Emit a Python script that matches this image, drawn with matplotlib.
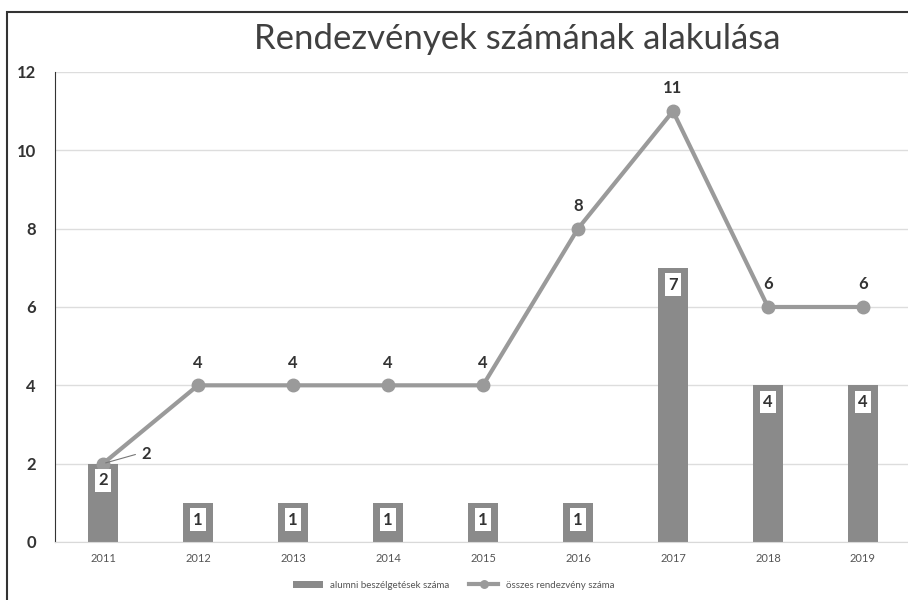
import numpy as np
import matplotlib.pyplot as plt
from matplotlib.patches import Rectangle

years = ["2011", "2012", "2013", "2014", "2015", "2016", "2017", "2018", "2019"]
alumni = [2, 1, 1, 1, 1, 1, 7, 4, 4]
osszes = [2, 4, 4, 4, 4, 8, 11, 6, 6]

plt.rcParams['font.family'] = ['Lato', 'DejaVu Sans']

fig = plt.figure(figsize=(9.08, 6.0), dpi=100)
ax = fig.add_axes([0.0611, 0.0967, 0.9416, 0.7833])

# outer frame
fig.patches.append(Rectangle((0.008, -0.05), 1.1, 1.03, transform=fig.transFigure,
                             fill=False, edgecolor="#333333", lw=1.5))

x = np.arange(len(years))
bar_col = "#8a8a8a"
line_col = "#9a9a9a"

ax.bar(x, alumni, width=0.31, color=bar_col, label="alumni beszélgetések száma", zorder=2)
ax.plot(x, osszes, color=line_col, lw=3, marker="o", ms=9, zorder=3,
        label="összes rendezvény száma")

# bar labels (white boxes)
for xi, v in zip(x, alumni):
    ax.text(xi, v - 0.43, str(v), ha="center", va="center", fontsize=12, fontweight="bold",
            color="#333333", zorder=4,
            bbox=dict(boxstyle="square,pad=0.2", fc="white", ec="none"))

# line labels
for xi, v in zip(x, osszes):
    if xi == 0:
        ax.annotate(str(v), xy=(xi, v), xytext=(xi + 0.45, v + 0.25),
                    ha="center", va="center", fontsize=12, fontweight="bold", color="#333333",
                    arrowprops=dict(arrowstyle="-", color="#777777", lw=0.8,
                                    connectionstyle="arc,angleA=180,angleB=20,armA=8,armB=0,rad=0"))
    else:
        ax.text(xi, v + 0.58, str(v), ha="center", va="center", fontsize=12,
                fontweight="bold", color="#333333")

ax.set_xlim(-0.5, len(years) - 0.5)
ax.set_ylim(0, 12)
ax.set_yticks(range(0, 13, 2))
ax.set_xticks(x)
ax.set_xticklabels(years, fontsize=8, color="#555555")
ax.tick_params(axis="y", labelsize=12, length=0, pad=14, colors="#333333")
for lab in ax.get_yticklabels():
    lab.set_fontweight("bold")
ax.tick_params(axis="x", length=0, pad=8)
ax.grid(axis="y", color="#dddddd", lw=1, zorder=0)
ax.set_axisbelow(True)
for s in ["top", "right"]:
    ax.spines[s].set_visible(False)
ax.spines["left"].set_color("#333333")
ax.spines["bottom"].set_color("#d9d9d9")

fig.text(0.57, 0.935, "Rendezvények számának alakulása", ha="center", va="center",
         fontsize=25, color="#404040")

h, l = ax.get_legend_handles_labels()
order = [l.index("alumni beszélgetések száma"), l.index("összes rendezvény száma")]
fig.legend([h[i] for i in order], [l[i] for i in order], loc="center",
           bbox_to_anchor=(0.5, 0.025), ncol=2, frameon=False,
           fontsize=7, handlelength=3, columnspacing=2, labelcolor="#555555",
           markerscale=0.6)

fig.savefig("out.png", dpi=100)
